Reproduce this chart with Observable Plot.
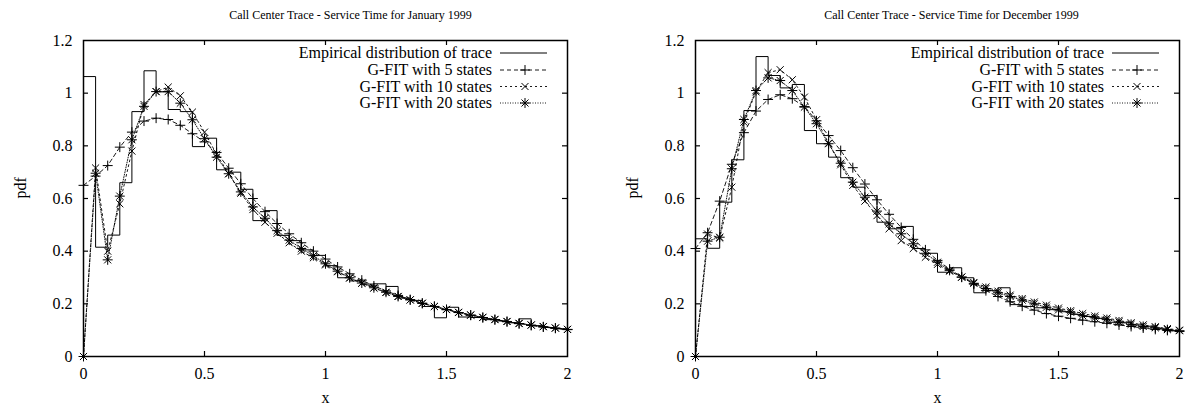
<!DOCTYPE html>
<html>
<head>
<meta charset="utf-8">
<script src="https://cdn.jsdelivr.net/npm/d3@7"></script>
<script src="https://cdn.jsdelivr.net/npm/@observablehq/plot@0.6"></script>
<style>
  html, body { margin: 0; padding: 0; background: white; }
  #wrap { display: flex; flex-direction: row; width: 1188px; height: 407px; }
  svg { display: block; }
</style>
</head>
<body>
<div id="wrap"></div>
<script>
// ---- data ----
const xs = [0,0.05,0.1,0.15,0.2,0.25,0.3,0.35,0.4,0.45,0.5,0.55,0.6,0.65,0.7,0.75,0.8,0.85,0.9,0.95,
            1,1.05,1.1,1.15,1.2,1.25,1.3,1.35,1.4,1.45,1.5,1.55,1.6,1.65,1.7,1.75,1.8,1.85,1.9,1.95,2];
const binEdges = xs; // left edges of histogram bins plus final right edge

const xTicks = [0, 0.5, 1, 1.5, 2];
const xTickLabels = ["0", "0.5", "1", "1.5", "2"];
const yTicks = [0, 0.2, 0.4, 0.6, 0.8, 1, 1.2];
const yTickLabels = ["0", "0.2", "0.4", "0.6", "0.8", "1", "1.2"];

const seriesNames = ["Empirical distribution of trace", "G-FIT with 5 states", "G-FIT with 10 states", "G-FIT with 20 states"];

// January 1999
const janTitle = "Call Center Trace - Service Time for January 1999";
const janHist = [1.063,0.415,0.461,0.66,0.93,1.085,1.005,0.938,0.93,0.797,0.829,0.709,0.70,0.635,0.516,0.554,0.46,0.44,0.405,0.384,
                 0.345,0.299,0.287,0.275,0.276,0.266,0.222,0.213,0.19,0.147,0.187,0.15,0.148,0.14,0.135,0.128,0.143,0.117,0.11,0.105];
const janG5  = [0.65,0.685,0.725,0.795,0.852,0.894,0.905,0.90,0.878,0.846,0.815,0.775,0.715,0.656,0.60,0.55,0.505,0.466,0.432,0.40,
                0.37,0.34,0.314,0.29,0.268,0.249,0.232,0.216,0.202,0.19,0.178,0.167,0.157,0.148,0.14,0.132,0.125,0.118,0.112,0.107,0.102];
const janG10 = [0,0.716,0.40,0.58,0.78,0.957,1.006,1.023,0.99,0.928,0.852,0.768,0.694,0.62,0.558,0.51,0.468,0.432,0.40,0.375,
                0.348,0.322,0.298,0.278,0.26,0.243,0.228,0.215,0.202,0.19,0.179,0.168,0.158,0.149,0.141,0.133,0.126,0.12,0.114,0.108,0.103];
const janG20 = [0,0.696,0.367,0.609,0.823,0.95,1.006,1.006,0.962,0.899,0.827,0.757,0.694,0.625,0.568,0.525,0.478,0.442,0.41,0.383,
                0.352,0.324,0.299,0.279,0.261,0.244,0.228,0.215,0.202,0.19,0.178,0.167,0.157,0.148,0.14,0.133,0.125,0.119,0.113,0.108,0.103];

// December 1999
const decTitle = "Call Center Trace - Service Time for December 1999";
const decHist = [0.447,0.411,0.586,0.747,0.934,1.139,1.067,1.02,1.033,0.858,0.808,0.757,0.679,0.643,0.611,0.51,0.485,0.494,0.41,0.392,
                 0.32,0.337,0.299,0.242,0.25,0.261,0.197,0.19,0.185,0.178,0.17,0.16,0.152,0.145,0.13,0.13,0.12,0.115,0.105,0.098];
const decG5  = [0.41,0.47,0.59,0.73,0.85,0.932,0.976,0.994,0.979,0.949,0.895,0.839,0.782,0.717,0.655,0.595,0.54,0.49,0.445,0.405,
                0.365,0.332,0.302,0.275,0.25,0.228,0.208,0.191,0.176,0.163,0.153,0.145,0.138,0.132,0.126,0.12,0.114,0.108,0.103,0.099,0.095];
const decG10 = [0,0.465,0.45,0.643,0.89,1.005,1.078,1.089,1.051,0.985,0.899,0.81,0.728,0.65,0.59,0.535,0.485,0.44,0.41,0.377,
                0.35,0.324,0.302,0.281,0.264,0.248,0.233,0.22,0.207,0.195,0.184,0.174,0.163,0.154,0.146,0.137,0.128,0.12,0.113,0.106,0.10];
const decG20 = [0,0.438,0.453,0.713,0.90,1.01,1.058,1.048,1.01,0.947,0.884,0.808,0.734,0.662,0.605,0.552,0.504,0.466,0.428,0.392,
                0.358,0.327,0.301,0.278,0.258,0.242,0.228,0.214,0.2,0.187,0.177,0.168,0.155,0.147,0.14,0.131,0.122,0.114,0.109,0.102,0.098];

// ---- drawing ----
const FONT = "Liberation Serif, Times New Roman, serif";
const symPlus = d3.symbolPlus || d3.symbolCross;
const symTimes = d3.symbolTimes || d3.symbolX;
const dash5 = "4,3", dash10 = "2,3", dash20 = "1,1.5";

function panel(title, hist, g5, g10, g20, marginLeft, marginRight, titleDx) {
  const W = 594, H = 407, mT = 40, mB = 51;
  const histData = hist.map((v, i) => ({x: binEdges[i], y: v}));
  histData.push({x: binEdges[binEdges.length - 1], y: hist[hist.length - 1]});
  const mk = arr => arr.map((v, i) => ({x: xs[i], y: v}));
  const d5 = mk(g5), d10 = mk(g10), d20 = mk(g20);
  const innerX = xTicks.slice(1, -1), innerY = yTicks.slice(1, -1);
  const tickY = 5 * 1.2 / (H - mT - mB);               // 5px in y units
  const tickX = 5 * 2 / (W - marginLeft - marginRight); // 5px in x units
  const r = 3.3;

  const svg = Plot.plot({
    width: W, height: H,
    marginLeft, marginRight, marginTop: mT, marginBottom: mB,
    x: {domain: [0, 2]},
    y: {domain: [0, 1.2]},
    style: {fontFamily: FONT, fontSize: "16px", color: "black", background: "white", overflow: "visible"},
    marks: [
      Plot.axisX({ticks: xTicks, tickSize: 0, tickPadding: 11, fontSize: 16, label: null,
                  tickFormat: d => xTickLabels[xTicks.indexOf(d)]}),
      Plot.axisY({ticks: yTicks, tickSize: 0, tickPadding: 11, fontSize: 16, label: null,
                  tickFormat: d => yTickLabels[yTicks.indexOf(d)]}),
      // inward tick marks on all four sides
      Plot.ruleX(innerX, {y1: 0, y2: tickY, stroke: "black", strokeWidth: 1.2}),
      Plot.ruleX(innerX, {y1: 1.2, y2: 1.2 - tickY, stroke: "black", strokeWidth: 1.2}),
      Plot.ruleY(innerY, {x1: 0, x2: tickX, stroke: "black", strokeWidth: 1.2}),
      Plot.ruleY(innerY, {x1: 2, x2: 2 - tickX, stroke: "black", strokeWidth: 1.2}),
      // empirical histogram
      Plot.line(histData, {x: "x", y: "y", curve: "step-after", stroke: "black", strokeWidth: 1}),
      // fits
      Plot.line(d5, {x: "x", y: "y", stroke: "black", strokeWidth: 0.9, strokeDasharray: dash5}),
      Plot.dot(d5, {x: "x", y: "y", symbol: symPlus, r, stroke: "black", fill: "none", strokeWidth: 1}),
      Plot.line(d10, {x: "x", y: "y", stroke: "black", strokeWidth: 0.9, strokeDasharray: dash10}),
      Plot.dot(d10, {x: "x", y: "y", symbol: symTimes, r, stroke: "black", fill: "none", strokeWidth: 1}),
      Plot.line(d20, {x: "x", y: "y", stroke: "black", strokeWidth: 0.9, strokeDasharray: dash20}),
      Plot.dot(d20, {x: "x", y: "y", symbol: symPlus, r, stroke: "black", fill: "none", strokeWidth: 1}),
      Plot.dot(d20, {x: "x", y: "y", symbol: symTimes, r, stroke: "black", fill: "none", strokeWidth: 1}),
      Plot.frame({stroke: "black", strokeWidth: 1.5}),
      // title and axis labels
      Plot.text([title], {frameAnchor: "top", dy: -25, dx: titleDx, fontSize: 12, lineAnchor: "middle", fill: "black"}),
      Plot.text(["x"], {frameAnchor: "bottom", dy: 41, fontSize: 16, lineAnchor: "middle", fill: "black"}),
      Plot.text(["pdf"], {frameAnchor: "left", dx: -63, rotate: -90, fontSize: 16, lineAnchor: "middle", fill: "black"})
    ]
  });

  // legend (top-right inside the frame)
  const right = W - marginRight;
  const g = d3.select(svg).append("g").attr("font-family", FONT).attr("font-size", 16);
  const rows = [53, 70, 86.5, 103];
  const styles = [null, dash5, dash10, dash20];
  const syms = [[], [symPlus], [symTimes], [symPlus, symTimes]];
  seriesNames.forEach((name, i) => {
    const y = rows[i];
    g.append("text").attr("x", right - 75).attr("y", y).attr("dy", "0.32em")
      .attr("text-anchor", "end").attr("fill", "black").text(name);
    const ln = g.append("line").attr("x1", right - 67).attr("x2", right - 20)
      .attr("y1", y).attr("y2", y).attr("stroke", "black").attr("stroke-width", i === 0 ? 1 : 0.9);
    if (styles[i]) ln.attr("stroke-dasharray", styles[i]);
    syms[i].forEach(s => {
      g.append("path").attr("transform", `translate(${right - 42},${y})`)
        .attr("d", d3.symbol(s, Math.PI * r * r)()).attr("fill", "none")
        .attr("stroke", "black").attr("stroke-width", 1);
    });
  });
  return svg;
}

const wrap = document.getElementById("wrap");
wrap.appendChild(panel(janTitle, janHist, janG5, janG10, janG20, 83, 27, 25));
wrap.appendChild(panel(decTitle, decHist, decG5, decG10, decG20, 101, 9, 14));
</script>
</body>
</html>
